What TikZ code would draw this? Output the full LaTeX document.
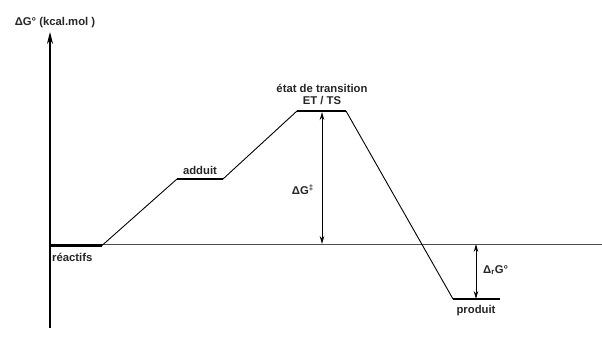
\documentclass[tikz,border=0pt]{standalone}
\usepackage{fontspec}
\setmainfont{Liberation Sans}
\usetikzlibrary{arrows.meta}
\begin{document}
\begin{tikzpicture}[x=1pt,y=-1pt,
  level/.style={line width=2.2pt},
  slope/.style={line width=0.9pt},
  base/.style={line width=0.6pt, black!70},
  dimarrow/.style={line width=0.9pt, {Stealth[length=8pt,width=4.5pt]}-{Stealth[length=8pt,width=4.5pt]}},
  lbl/.style={font=\fontsize{11.3}{13}\selectfont\bfseries, inner sep=0pt, text=black!85}]
\useasboundingbox (0,0) rectangle (602,363);
% coordinates
\coordinate (axb) at (50,328);
\coordinate (axt) at (50,32);
\coordinate (b1) at (50,244);
\coordinate (b2) at (602,244);
\coordinate (r1) at (50,245.5);
\coordinate (r2) at (102,245.5);
\coordinate (a1) at (177,179);
\coordinate (a2) at (223,179);
\coordinate (t1) at (297,111);
\coordinate (t2) at (346,111);
\coordinate (p1) at (453,299);
\coordinate (p2) at (500,299);
\coordinate (ga) at (322,112);
\coordinate (gb) at (322,244);
\coordinate (ra) at (476,244);
\coordinate (rb) at (476,299);
% axis
\draw[line width=1.1pt, -{Stealth[length=12pt,width=6pt]}] (axb) -- (axt);
% baseline
\draw[base] (b1) -- (b2);
% levels
\draw[level] (r1) -- (r2);
\draw[level] (a1) -- (a2);
\draw[level] (t1) -- (t2);
\draw[level] (p1) -- (p2);
% slopes
\draw[slope] (r2) -- (a1);
\draw[slope] (a2) -- (t1);
\draw[slope] (t2) -- (p1);
% dimension arrows
\draw[dimarrow] (ga) -- (gb);
\draw[dimarrow] (ra) -- (rb);
% labels
\node[lbl] (ylab) at (55,23) {ΔG° (kcal.mol )};
\node[lbl] (ets1) at (322,88) {état de transition};
\node[lbl] (ets2) at (322,101) {ET / TS};
\node[lbl] (add) at (200,170) {adduit};
\node[lbl, anchor=west] (rea) at (52,257) {réactifs};
\node[lbl, anchor=east] (dg) at (314,190) {ΔG\textsuperscript{‡}};
\node[lbl, anchor=west] (drg) at (483,270) {Δ\textsubscript{r}G°};
\node[lbl] (prod) at (476,311) {produit};
\end{tikzpicture}
\end{document}
